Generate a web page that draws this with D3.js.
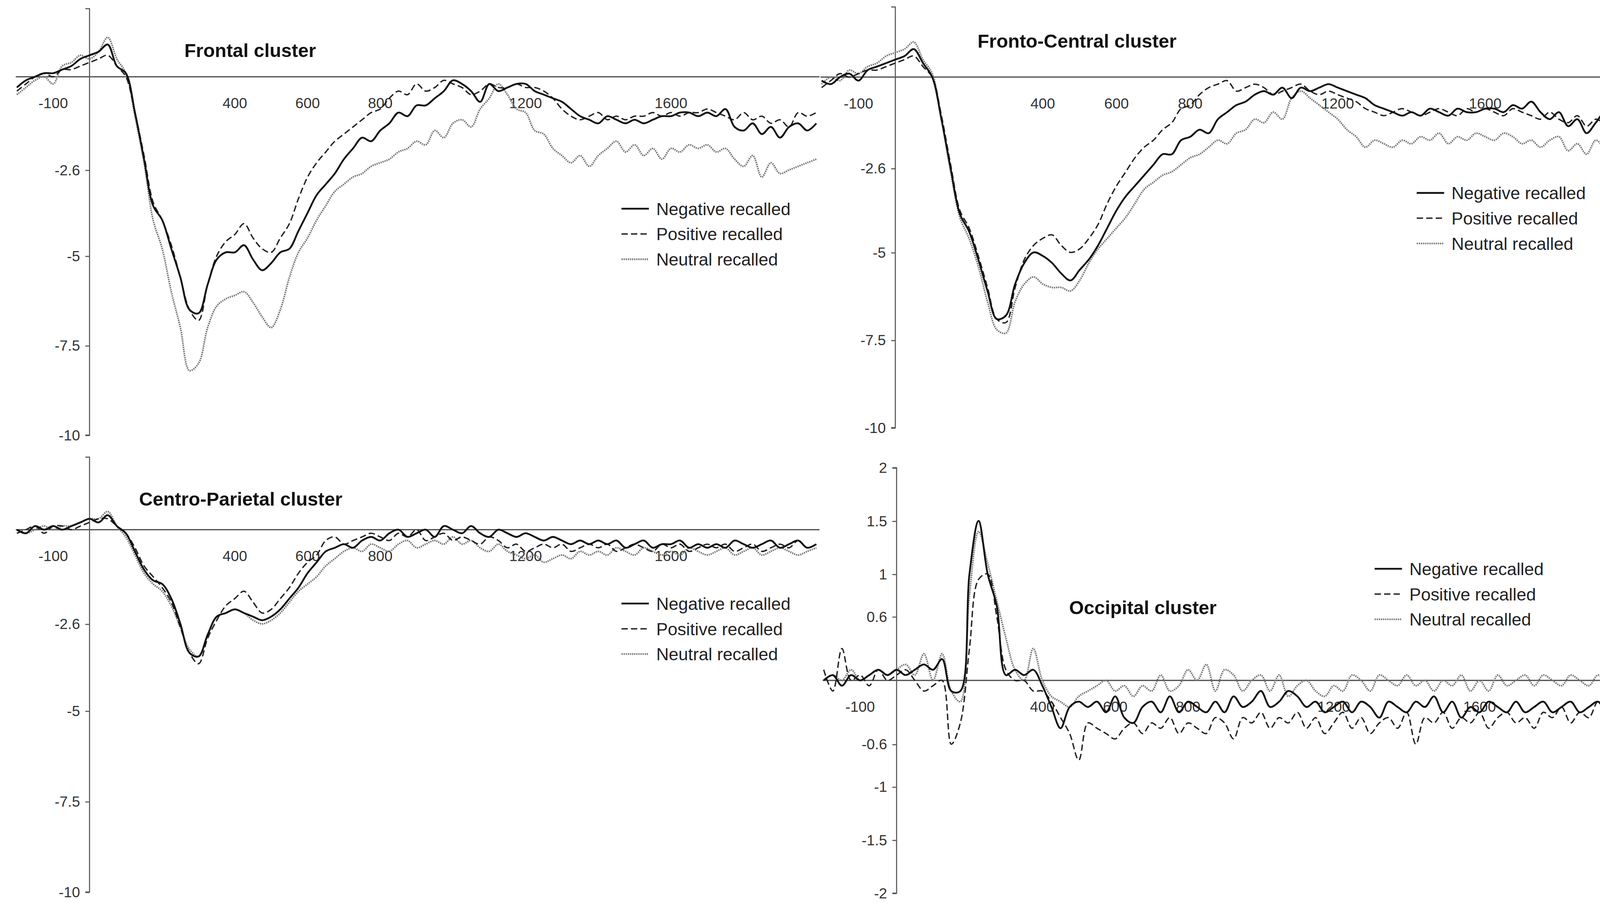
<!DOCTYPE html>
<html><head><meta charset="utf-8">
<script src="https://cdn.jsdelivr.net/npm/d3@7"></script>
<style>body{margin:0;background:#fff}svg{display:block}</style></head>
<body><svg id="c" width="4212" height="2323" viewBox="0 0 1562 861"></svg>
<script>
const times = d3.range(-200, 2001, 25);
const seriesNames = ["Negative recalled","Positive recalled","Neutral recalled"];
const xTickLabels = [-100,400,600,800,1200,1600];
const yTicksBig = [-2.6,-5,-7.5,-10];
const yTicksOcc = [2,1.5,1,0.6,-0.6,-1,-1.5,-2];

const frontalNeg = [-0.3,-0.1,0.0,0.1,0.1,0.2,0.3,0.5, 0.6,0.7,0.9,0.3,0.1,-1.0,-2.3,-3.6, -4.0,-4.8,-5.6,-6.5,-6.6,-5.8,-5.1,-4.9, -4.9,-4.7,-5.1,-5.4,-5.2,-4.9,-4.8,-4.3, -3.8,-3.3,-3.0,-2.7,-2.3,-2.0,-1.7,-1.8, -1.5,-1.3,-1.0,-1.1,-0.8,-0.8,-0.6,-0.4, -0.1,-0.2,-0.4,-0.7,-0.2,-0.4,-0.3,-0.2, -0.2,-0.4,-0.5,-0.6,-0.7,-0.9,-1.1,-1.2, -1.3,-1.1,-1.2,-1.3,-1.2,-1.3,-1.2,-1.1, -1.1,-1.0,-1.0,-1.1,-1.0,-1.1,-0.9,-1.4, -1.5,-1.3,-1.6,-1.4,-1.7,-1.4,-1.3,-1.5, -1.3];
const frontalPos = [-0.4,-0.2,0.0,0.1,0.0,0.2,0.2,0.3, 0.4,0.5,0.6,0.3,0.0,-1.0,-2.2,-3.5, -4.0,-4.7,-5.6,-6.5,-6.8,-5.8,-5.0,-4.6, -4.4,-4.1,-4.5,-4.8,-4.9,-4.5,-4.1,-3.4, -2.8,-2.4,-2.1,-1.8,-1.6,-1.4,-1.2,-1.0, -0.9,-0.6,-0.4,-0.5,-0.2,-0.4,-0.3,-0.1, -0.2,-0.3,-0.5,-0.4,-0.2,-0.3,-0.3,-0.2, -0.3,-0.3,-0.4,-0.6,-0.9,-1.1,-1.2,-1.1, -1.0,-1.2,-1.1,-1.2,-1.1,-1.1,-1.0,-1.1, -1.0,-1.1,-1.0,-1.0,-0.9,-1.0,-1.1,-1.2, -1.0,-1.2,-1.1,-1.3,-1.2,-1.4,-1.0,-1.1, -1.0];
const frontalNeu = [-0.5,-0.3,-0.1,0.0,-0.2,0.3,0.4,0.6, 0.5,0.7,1.1,0.5,0.1,-1.1,-2.4,-4.0, -4.8,-6.0,-7.0,-8.2,-8.0,-7.0,-6.4,-6.2, -6.1,-6.0,-6.3,-6.7,-7.0,-6.5,-5.6,-4.9, -4.5,-4.0,-3.6,-3.2,-3.0,-2.8,-2.7,-2.5, -2.4,-2.3,-2.1,-2.0,-1.8,-1.9,-1.5,-1.7, -1.3,-1.2,-1.4,-0.9,-0.6,-0.2,-0.5,-0.9, -1.0,-1.5,-1.6,-2.0,-2.2,-2.4,-2.2,-2.5, -2.2,-2.0,-1.8,-2.1,-1.9,-2.2,-2.0,-2.3, -2.0,-2.1,-1.9,-2.0,-1.9,-2.1,-2.0,-2.3, -2.5,-2.2,-2.8,-2.4,-2.7,-2.6,-2.5,-2.4, -2.3];

const fcNeg = [-0.1,-0.2,0.0,0.1,-0.1,0.2,0.3,0.4, 0.5,0.6,0.8,0.4,0.0,-1.2,-2.6,-3.9, -4.4,-5.2,-6.1,-6.9,-6.8,-5.9,-5.3,-5.0, -5.1,-5.3,-5.6,-5.8,-5.5,-5.2,-4.8,-4.3, -3.8,-3.4,-3.1,-2.8,-2.5,-2.2,-2.2,-1.8, -1.7,-1.5,-1.6,-1.2,-1.0,-0.8,-0.7,-0.5, -0.4,-0.5,-0.3,-0.6,-0.3,-0.4,-0.3,-0.2, -0.3,-0.4,-0.5,-0.6,-0.8,-0.9,-1.0,-1.1, -1.0,-1.1,-0.9,-1.0,-1.1,-0.9,-1.0,-1.0, -0.9,-0.9,-1.0,-0.8,-0.9,-0.7,-1.0,-1.2, -1.0,-1.4,-1.2,-1.6,-1.3,-1.0,-1.4,-1.1, -1.2];
const fcPos = [-0.3,-0.1,0.1,0.0,0.1,0.2,0.2,0.3, 0.4,0.5,0.6,0.3,0.0,-1.1,-2.5,-3.8, -4.3,-5.1,-6.0,-6.9,-7.0,-6.0,-5.2,-4.8, -4.6,-4.5,-4.8,-5.0,-4.9,-4.6,-4.2,-3.6, -3.1,-2.7,-2.3,-2.0,-1.8,-1.5,-1.3,-0.9, -0.8,-0.5,-0.3,-0.2,-0.1,-0.4,-0.3,-0.2, -0.3,-0.5,-0.4,-0.3,-0.2,-0.4,-0.5,-0.4, -0.5,-0.6,-0.7,-0.9,-1.0,-1.1,-1.0,-0.9, -1.0,-1.1,-1.0,-0.9,-1.0,-1.1,-0.9,-1.0, -0.9,-1.0,-1.1,-0.9,-1.0,-1.1,-1.2,-1.0, -1.2,-1.3,-1.1,-1.4,-1.2,-1.3,-1.1,-1.0, -1.2];
const fcNeu = [-0.2,0.0,-0.1,0.2,0.1,0.3,0.4,0.6, 0.7,0.8,1.0,0.5,0.1,-1.2,-2.7,-4.0, -4.6,-5.4,-6.4,-7.2,-7.3,-6.4,-5.9,-5.7, -5.9,-6.0,-6.0,-6.1,-5.8,-5.3,-4.9,-4.6, -4.3,-4.0,-3.6,-3.2,-3.0,-2.8,-2.7,-2.5, -2.3,-2.2,-2.0,-1.8,-1.9,-1.6,-1.5,-1.2, -1.3,-1.0,-1.2,-0.6,-0.4,-0.6,-0.8,-1.0, -1.2,-1.5,-1.7,-2.0,-1.8,-1.9,-2.0,-1.8, -1.9,-1.7,-1.8,-1.6,-1.9,-1.7,-1.8,-1.6, -1.7,-1.8,-1.6,-1.7,-1.9,-1.8,-2.0,-1.8, -1.7,-2.1,-1.9,-2.2,-1.8,-2.0,-1.9,-2.1, -2.2];

const cpNeg = [0.0,-0.1,0.1,0.0,0.1,0.0,0.1,0.2, 0.3,0.2,0.4,0.1,-0.1,-0.6,-1.1,-1.4, -1.5,-1.9,-2.6,-3.4,-3.5,-2.9,-2.4,-2.3, -2.2,-2.3,-2.4,-2.5,-2.4,-2.2,-1.9,-1.6, -1.2,-0.9,-0.6,-0.5,-0.4,-0.5,-0.3,-0.2, -0.3,-0.1,0.0,-0.2,-0.1,0.0,-0.2,0.1, 0.0,-0.1,0.1,-0.1,-0.2,0.0,-0.1,-0.2, -0.1,-0.2,-0.3,-0.2,-0.3,-0.4,-0.3,-0.4, -0.3,-0.4,-0.3,-0.5,-0.4,-0.3,-0.5,-0.4, -0.4,-0.3,-0.5,-0.4,-0.5,-0.4,-0.5,-0.3, -0.4,-0.5,-0.4,-0.3,-0.5,-0.4,-0.3,-0.5, -0.4];
const cpPos = [-0.1,0.0,0.1,-0.1,0.1,0.1,0.0,0.1, 0.2,0.3,0.3,0.1,-0.1,-0.5,-1.0,-1.3, -1.6,-2.0,-2.7,-3.4,-3.7,-3.0,-2.5,-2.1, -1.9,-1.7,-2.0,-2.3,-2.2,-1.9,-1.6,-1.2, -0.9,-0.7,-0.3,-0.2,-0.4,-0.3,-0.2,-0.1, -0.2,-0.3,-0.1,-0.2,0.0,-0.3,-0.2,-0.1, -0.3,-0.2,-0.3,-0.4,-0.2,-0.3,-0.5,-0.4, -0.6,-0.5,-0.4,-0.5,-0.4,-0.6,-0.5,-0.4, -0.5,-0.4,-0.6,-0.5,-0.4,-0.5,-0.6,-0.4, -0.5,-0.4,-0.6,-0.5,-0.4,-0.5,-0.4,-0.6, -0.5,-0.4,-0.6,-0.5,-0.4,-0.5,-0.3,-0.5, -0.4];
const cpNeu = [0.0,-0.1,0.0,0.1,0.0,0.1,0.1,0.2, 0.3,0.3,0.5,0.1,-0.2,-0.7,-1.2,-1.5, -1.7,-2.1,-2.7,-3.3,-3.5,-2.9,-2.4,-2.3, -2.2,-2.3,-2.5,-2.6,-2.5,-2.3,-2.0,-1.7, -1.5,-1.3,-1.0,-0.8,-0.6,-0.5,-0.6,-0.4, -0.5,-0.6,-0.4,-0.3,-0.5,-0.4,-0.3,-0.4, -0.2,-0.4,-0.3,-0.5,-0.6,-0.4,-0.6,-0.7, -0.8,-0.7,-0.9,-0.8,-0.7,-0.8,-0.6,-0.7, -0.6,-0.7,-0.5,-0.6,-0.7,-0.5,-0.6,-0.7, -0.6,-0.7,-0.5,-0.6,-0.7,-0.6,-0.5,-0.7, -0.6,-0.5,-0.7,-0.6,-0.5,-0.6,-0.7,-0.6, -0.5];

const occNeg = [0.0,0.05,-0.05,0.05,0.0,0.05,0.1,0.05, 0.1,0.05,0.1,0.15,0.1,0.2,-0.1,-0.1, 1.0,1.5,1.0,0.7,0.05,0.1,0.05,0.1, -0.05,-0.25,-0.45,-0.25,-0.2,-0.25,-0.2,-0.3, -0.15,-0.35,-0.4,-0.25,-0.2,-0.3,-0.15,-0.3, -0.2,-0.25,-0.3,-0.2,-0.3,-0.15,-0.25,-0.2, -0.1,-0.25,-0.2,-0.1,-0.15,-0.25,-0.2,-0.3, -0.25,-0.2,-0.3,-0.2,-0.25,-0.35,-0.2,-0.25, -0.3,-0.2,-0.25,-0.15,-0.3,-0.2,-0.35,-0.25, -0.3,-0.2,-0.25,-0.3,-0.2,-0.3,-0.25,-0.2, -0.3,-0.25,-0.2,-0.3,-0.25,-0.2,-0.3,-0.15, -0.25];
const occPos = [0.1,-0.1,0.3,0.0,0.05,-0.05,0.1,0.0, 0.05,0.1,0.0,-0.1,-0.05,0.0,-0.6,-0.4, 0.3,0.95,1.0,0.6,0.1,0.0,0.0,-0.1, -0.1,-0.2,-0.35,-0.5,-0.75,-0.4,-0.45,-0.5, -0.55,-0.45,-0.4,-0.5,-0.4,-0.45,-0.35,-0.5, -0.4,-0.45,-0.5,-0.35,-0.4,-0.55,-0.35,-0.4, -0.3,-0.45,-0.35,-0.4,-0.3,-0.45,-0.35,-0.5, -0.4,-0.3,-0.45,-0.35,-0.5,-0.4,-0.35,-0.45, -0.3,-0.6,-0.35,-0.4,-0.3,-0.45,-0.35,-0.4, -0.3,-0.45,-0.35,-0.3,-0.4,-0.35,-0.45,-0.3, -0.35,-0.25,-0.4,-0.3,-0.35,-0.2,-0.3,-0.15, -0.2];
const occNeu = [0.0,0.05,0.0,0.1,0.0,0.05,0.1,0.05, 0.1,0.15,0.05,0.25,0.0,0.25,-0.1,-0.2, 0.8,1.4,1.1,0.75,0.4,0.1,0.0,0.3, 0.0,-0.15,-0.2,-0.25,-0.15,-0.1,-0.05,0.0, -0.1,-0.05,-0.15,-0.05,-0.1,0.05,-0.1,-0.05, 0.1,0.0,0.15,-0.1,0.1,0.05,-0.1,0.0, 0.05,-0.1,0.05,-0.15,-0.05,0.0,-0.1,-0.15, -0.05,-0.1,0.05,0.0,-0.1,0.05,0.0,-0.05, 0.05,-0.05,0.0,-0.1,0.0,-0.05,0.05,-0.1, 0.0,-0.1,0.05,-0.05,0.0,0.05,-0.05,0.05, 0.0,-0.05,0.05,0.0,-0.05,0.05,0.0,0.05, 0.0];

const panels = [
  {title:"Frontal cluster", tx:175, ty:54, data:[frontalNeg,frontalPos,frontalNeu],
   xr:[16,775], yd:[1.9,-10], yr:[8,413], yt:yTicksBig, lx:590, ly:198},
  {title:"Fronto-Central cluster", tx:928, ty:45, data:[fcNeg,fcPos,fcNeu],
   xr:[780,1550], yd:[2,-10], yr:[6.4,406], yt:yTicksBig, lx:1345, ly:183},
  {title:"Centro-Parietal cluster", tx:132, ty:480, data:[cpNeg,cpPos,cpNeu],
   xr:[16,775], yd:[2,-10], yr:[434,847], yt:yTicksBig, lx:590, ly:573},
  {title:"Occipital cluster", tx:1015, ty:583, data:[occNeg,occPos,occNeu],
   xr:[782,1543], yd:[2,-2], yr:[444,848], yt:yTicksOcc, lx:1305, ly:540}
];
const styles = [
  {stroke:"#111", w:1.7, dash:null},
  {stroke:"#222", w:1.3, dash:"6,3"},
  {stroke:"#777", w:1.6, dash:"1.2,0.8"}
];
const svg = d3.select("#c");
const font = "Liberation Sans, Arial, sans-serif";
panels.forEach(p => {
  const x = d3.scaleLinear().domain([-200,2000]).range(p.xr);
  const y = d3.scaleLinear().domain(p.yd).range(p.yr);
  const g = svg.append("g");
  // y axis
  const ya = g.append("g").attr("transform",`translate(${x(0)},0)`)
    .call(d3.axisLeft(y).tickValues(p.yt).tickSize(4).tickFormat(d=>String(d)));
  ya.select(".domain").attr("stroke","#555").attr("stroke-width",1).attr("d",`M-4,${y(p.yd[0])}H0V${y(p.yd[1])}H-4`);
  ya.selectAll(".tick line").attr("stroke","#555");
  ya.selectAll("text").attr("font-family",font).attr("font-size",14).attr("fill","#333").attr("x",-9);
  // zero line
  g.append("line").attr("x1",x(-200)-1).attr("x2",x(2000)+3).attr("y1",y(0)).attr("y2",y(0))
    .attr("stroke","#555").attr("stroke-width",1.2);
  // x tick labels
  g.selectAll(".xl").data(xTickLabels).enter().append("text")
    .attr("x",d=>x(d)).attr("y",y(0)+30).attr("text-anchor","middle")
    .attr("font-family",font).attr("font-size",14).attr("fill","#333").text(d=>d);
  // lines
  const line = d3.line().x((d,i)=>x(times[i])).y(d=>y(d)).curve(d3.curveCatmullRom);
  [2,1,0].forEach(k=>{
    g.append("path").attr("d",line(p.data[k])).attr("fill","none")
      .attr("stroke",styles[k].stroke).attr("stroke-width",styles[k].w)
      .attr("stroke-dasharray",styles[k].dash);
  });
  // title
  g.append("text").attr("x",p.tx).attr("y",p.ty).attr("font-family",font)
    .attr("font-weight","bold").attr("font-size",18).attr("fill","#111").text(p.title);
  // legend
  seriesNames.forEach((n,k)=>{
    const yy = p.ly + k*24;
    g.append("line").attr("x1",p.lx).attr("x2",p.lx+26).attr("y1",yy).attr("y2",yy)
      .attr("stroke",styles[k].stroke).attr("stroke-width",styles[k].w)
      .attr("stroke-dasharray",styles[k].dash);
    g.append("text").attr("x",p.lx+33).attr("y",yy+6).attr("font-family",font)
      .attr("font-size",16.5).attr("fill","#222").text(n);
  });
});
</script></body></html>
